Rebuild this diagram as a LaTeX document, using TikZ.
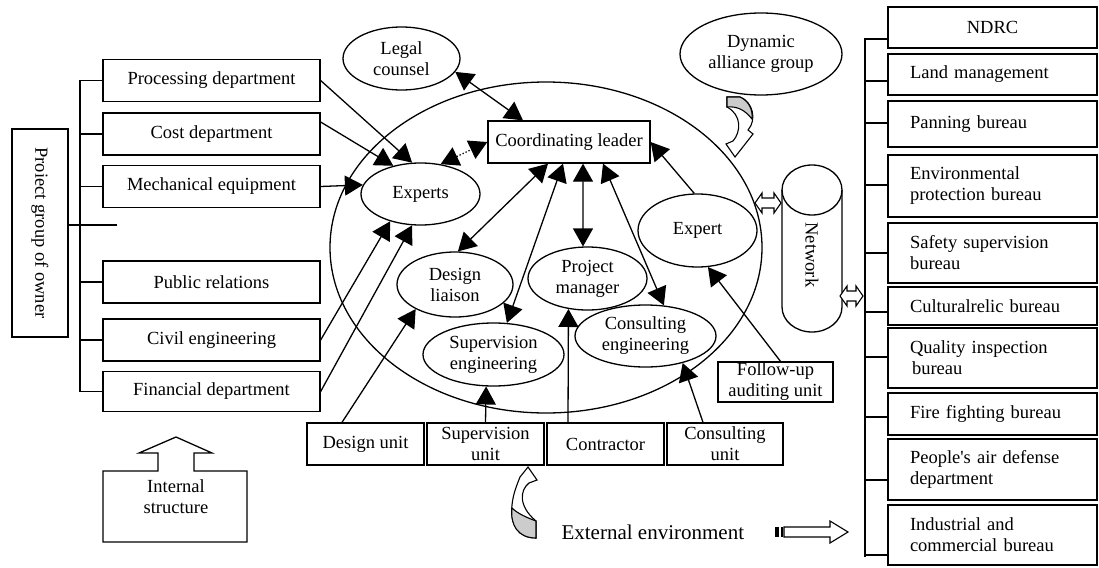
\documentclass[tikz,border=0pt]{standalone}
\usepackage{fontspec}
\setmainfont{Liberation Serif}[Ligatures=TeXOff]
\usetikzlibrary{arrows.meta,shapes.geometric,calc}
\begin{document}
\begin{tikzpicture}[x=1pt,y=-1pt,
  every node/.style={font=\fontsize{18.5}{21}\selectfont},
  box/.style={draw,line width=1.3pt,rectangle,inner sep=0pt,align=center},
  rbox/.style={draw,line width=1.3pt,rectangle,inner xsep=22pt,inner ysep=0pt,text width=165pt,align=left,minimum height=#1},
  ell/.style={draw,line width=1.3pt,ellipse,inner sep=0pt,align=center},
  ln/.style={line width=1.3pt},
  arr/.style={line width=1.3pt,-{Triangle[length=18pt,width=20pt]}},
  darr/.style={line width=1.3pt,{Triangle[length=18pt,width=20pt]}-{Triangle[length=18pt,width=20pt]}},
]
\useasboundingbox (0,0) rectangle (1099,567);

% big ellipse
\node[ell,minimum width=432pt,minimum height=331pt] (org) at (546,247.5) {};

% left side
\node[box,minimum width=56pt,minimum height=208pt] (owner) at (40,233) {};
\node[rotate=-90] (ownertxt) at (owner.center) {Proiect group of owner};
\node[box,minimum width=217pt,minimum height=42pt] (proc) at (211.5,80.5) {Processing department};
\node[box,minimum width=217pt,minimum height=42pt] (cost) at (211.5,134) {Cost department};
\node[box,minimum width=217pt,minimum height=42pt] (mech) at (211.5,186.5) {Mechanical equipment};
\node[box,minimum width=217pt,minimum height=42pt] (pub) at (211.5,282) {Public relations};
\node[box,minimum width=217pt,minimum height=42pt] (civil) at (211.5,340) {Civil engineering};
\node[box,minimum width=217pt,minimum height=40pt] (fin) at (211.5,391.5) {Financial department};
\coordinate (busL) at (80,0);
\coordinate (ownerend) at (117,225);
\draw[ln] (busL |- proc.west) -- (busL |- fin.west);
\foreach \b in {proc,cost,mech,pub,civil,fin}{\draw[ln] (busL |- \b.west) -- (\b.west);}
\draw[ln] (owner.east |- ownerend) -- (ownerend);

% inner nodes
\node[box,minimum width=162pt,minimum height=42pt] (coord) at (569,142) {Coordinating leader};
\node[ell,minimum width=119pt,minimum height=62pt] (experts) at (420.5,194) {Experts};
\node[ell,minimum width=117pt,minimum height=63pt] (legal) at (401.5,58.5) {Legal\\counsel};
\node[ell,minimum width=162pt,minimum height=82pt] (dyn) at (761,54) {Dynamic\\alliance group};
\node[ell,minimum width=116pt,minimum height=65pt] (design) at (455,284.5) {Design\\liaison};
\node[ell,minimum width=119pt,minimum height=63pt] (pm) at (587.5,278.5) {Project\\manager};
\node[ell,minimum width=119pt,minimum height=73pt] (expert) at (697.5,230.5) {Expert};
\node[ell,minimum width=141pt,minimum height=63pt] (supeng) at (493.5,354.5) {Supervision\\engineering};
\node[ell,minimum width=141pt,minimum height=62pt] (conseng) at (645.5,336) {Consulting\\engineering};
\node[box,minimum width=115pt,minimum height=40pt] (followup) at (775.5,382) {Follow-up\\auditing unit};

% bottom boxes
\node[box,minimum width=117pt,minimum height=42pt] (dunit) at (365.5,444) {Design unit};
\node[box,minimum width=117pt,minimum height=42pt] (sunit) at (485.5,444) {Supervision\\unit};
\node[box,minimum width=117pt,minimum height=42pt] (contr) at (605.5,444) {Contractor};
\node[box,minimum width=116pt,minimum height=42pt] (cunit) at (725,444) {Consulting\\unit};

% connectors
\draw[arr] (proc.east) -- (experts.105);
\draw[arr] ([yshift=12pt]cost.east) -- (experts.134);
\draw[arr] (mech.east) -- (experts.171);
\draw[arr] (civil.east) -- (experts.222);
\draw[arr] (fin.east) -- (experts.255);
\draw[darr] (legal.346) -- ([xshift=-46pt]coord.north);
\draw[darr,dotted] (experts.56) -- (coord.west);
\draw[darr] ([xshift=-21pt]coord.south) -- (design.85);
\draw[darr] ([xshift=-6pt]coord.south) -- (supeng.67);
\draw[darr] ([xshift=14pt]coord.south) -- (pm.98);
\draw[darr] ([xshift=34pt]coord.south) -- (conseng.59);
\draw[arr] (expert.95) -- (coord.east);
\draw[arr] ([xshift=5pt]followup.north) -- (expert.286);
\draw[arr] ([xshift=-23.5pt]dunit.north) -- (design.212);
\draw[arr] (sunit.north) -- (supeng.257);
\draw[arr] ([xshift=-37.5pt]contr.north) -- (pm.238);
\draw[arr] ([xshift=-22pt]cunit.north) -- (conseng.324);

% network cylinder
\draw[ln] (782,190) -- (782,307) .. controls (782,320.8) and (795.4,332) .. (812,332)
  .. controls (828.6,332) and (842,320.8) .. (842,307) -- (842,190);
\draw[ln] (812,190) ellipse [x radius=30pt, y radius=25pt];
\node[rotate=-90] (network) at (812,255) {Network};

% hollow double arrows
\draw[line width=1.1pt,fill=white] (755,203) -- (762,193) -- (762,198) -- (774,198) -- (774,193) -- (781,203) -- (774,213) -- (774,208) -- (762,208) -- (762,213) -- cycle;
\draw[line width=1.1pt,fill=white] (840,296) -- (847,286) -- (847,291) -- (856,291) -- (856,286) -- (863,296) -- (856,306) -- (856,301) -- (847,301) -- (847,306) -- cycle;

% right column
\node[box,minimum width=209pt,minimum height=41pt] (ndrc) at (992.5,27.5) {NDRC};
\node[rbox=41pt] (land) at (992.5,74.5) {Land management};
\node[rbox=46pt] (plan) at (992.5,124) {Panning bureau};
\node[rbox=62pt] (env) at (992.5,186) {Environmental\\protection bureau};
\node[rbox=60pt] (safety) at (992.5,253) {Safety supervision\\bureau};
\node[rbox=38pt] (cult) at (992.5,306) {Culturalrelic bureau};
\node[rbox=60pt] (qual) at (992.5,358) {Quality inspection\\\hspace*{2pt}bureau};
\node[rbox=42pt] (fire) at (992.5,414) {Fire fighting bureau};
\node[rbox=61pt] (people) at (992.5,469.5) {People's air defense\\department};
\node[rbox=60pt] (indus) at (992.5,535) {Industrial and\\commercial bureau};
\draw[ln] (865,38) -- (865,557);
\draw[ln] (865,39) -- (ndrc.west |- 0,39);
\draw[ln] (865,81) -- (land.west |- 0,81);
\draw[ln] (865,123) -- (plan.west |- 0,123);
\draw[ln] (865,185) -- (env.west |- 0,185);
\draw[ln] (865,253) -- (safety.west |- 0,253);
\draw[ln] (865,312) -- (cult.west |- 0,312);
\draw[ln] (865,357) -- (qual.west |- 0,357);
\draw[ln] (865,417) -- (fire.west |- 0,417);
\draw[ln] (865,480) -- (people.west |- 0,480);
\draw[ln] (865,555) -- (indus.west |- 0,555);

% internal structure
\draw[ln] (103,471) -- (158,471) -- (158,453) -- (139,453) -- (176,437) -- (212,453) -- (194,453) -- (194,471) -- (247,471) -- (247,542) -- (103,542) -- cycle;
\node[align=center] (internal) at (176,497) {Internal\\structure};

% curved arrow near supervision unit
\draw[line width=1.1pt,fill=white] (528,467) -- (537,480) -- (529,483) .. controls (520,490) and (518,506) .. (536,521) -- (536,538) .. controls (518,538) and (510,525) .. (512,505) .. controls (513,495) and (516,487) .. (520,477) -- cycle;
\draw[line width=1.1pt,fill=black!20] (536,521) -- (536,538) .. controls (518,538) and (510,525) .. (512,508) .. controls (518,514) and (528,518) .. cycle;

% curved arrow near dynamic alliance group
\draw[line width=1.1pt,fill=white] (727,97) -- (740,97) .. controls (753,102) and (757,120) .. (748,130) -- (753,134) -- (735,157) -- (726,144) -- (733,141) .. controls (741,132) and (742,115) .. (727,107) -- cycle;
\draw[line width=1.1pt,fill=black!20] (727,97) -- (740,97) .. controls (749,101) and (753,110) .. (752,119) .. controls (745,110) and (737,106) .. (727,107) -- cycle;

% external environment
\node[anchor=west,font=\fontsize{21}{24}\selectfont] (extenv) at (558,532) {External environment};
\fill (775,527) rectangle (779,537);
\fill (780.5,527) rectangle (782.5,537);
\draw[line width=1.1pt] (784,527) -- (830,527) -- (830,521) -- (848,532) -- (830,543) -- (830,537) -- (784,537) -- cycle;
\end{tikzpicture}
\end{document}
